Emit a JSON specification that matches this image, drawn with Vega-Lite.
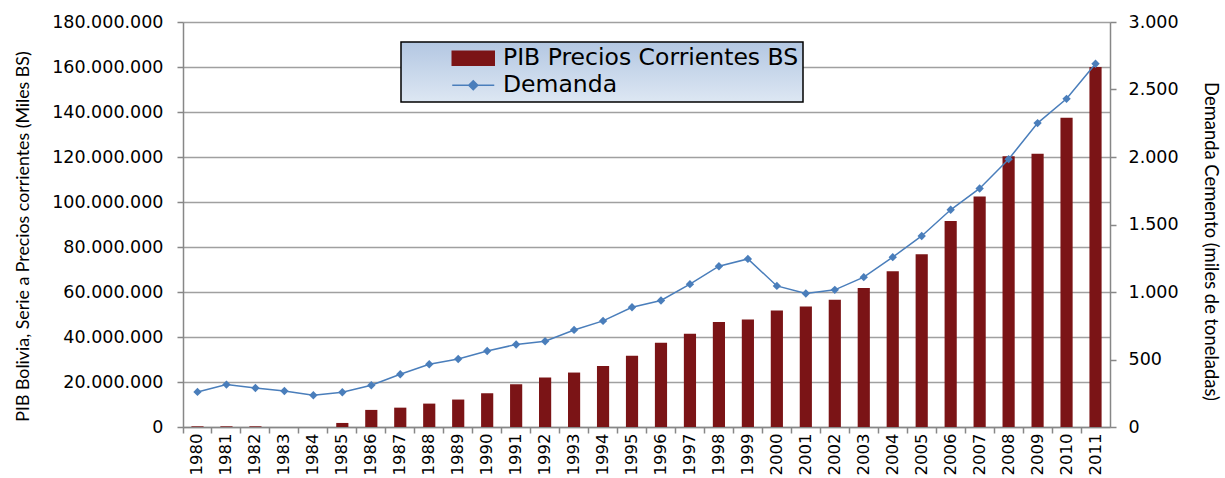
{
  "$schema": "https://vega.github.io/schema/vega-lite/v6.json",
  "width": 927,
  "height": 405,
  "autosize": {"type": "none"},
  "padding": {"left": 183, "top": 22, "right": 115, "bottom": 51},
  "background": "white",
  "config": {
    "locale": {"number": {"decimal": ",", "thousands": ".", "grouping": [3], "currency": ["", ""]}},
    "view": {"stroke": null},
    "axis": {
      "labelFont": "DejaVu Sans",
      "labelColor": "#000000",
      "titleColor": "#000000",
      "domainColor": "#878787",
      "tickColor": "#878787",
      "domainWidth": 1.5,
      "tickWidth": 1.5,
      "titleFontWeight": "normal"
    }
  },
  "data": {
    "values": [
      {"year": "1980", "pib": 300000, "dem": 260},
      {"year": "1981", "pib": 300000, "dem": 314},
      {"year": "1982", "pib": 300000, "dem": 289},
      {"year": "1983", "pib": 0, "dem": 267},
      {"year": "1984", "pib": 0, "dem": 235},
      {"year": "1985", "pib": 1800000, "dem": 257},
      {"year": "1986", "pib": 7600000, "dem": 309},
      {"year": "1987", "pib": 8600000, "dem": 391},
      {"year": "1988", "pib": 10400000, "dem": 465},
      {"year": "1989", "pib": 12200000, "dem": 504},
      {"year": "1990", "pib": 15000000, "dem": 563},
      {"year": "1991", "pib": 19000000, "dem": 611},
      {"year": "1992", "pib": 22000000, "dem": 635},
      {"year": "1993", "pib": 24200000, "dem": 719},
      {"year": "1994", "pib": 27100000, "dem": 786},
      {"year": "1995", "pib": 31700000, "dem": 887},
      {"year": "1996", "pib": 37500000, "dem": 937},
      {"year": "1997", "pib": 41400000, "dem": 1058},
      {"year": "1998", "pib": 46700000, "dem": 1191},
      {"year": "1999", "pib": 47800000, "dem": 1245},
      {"year": "2000", "pib": 51800000, "dem": 1045},
      {"year": "2001", "pib": 53600000, "dem": 989},
      {"year": "2002", "pib": 56600000, "dem": 1016},
      {"year": "2003", "pib": 61800000, "dem": 1110},
      {"year": "2004", "pib": 69200000, "dem": 1258},
      {"year": "2005", "pib": 76800000, "dem": 1415},
      {"year": "2006", "pib": 91600000, "dem": 1609},
      {"year": "2007", "pib": 102400000, "dem": 1767},
      {"year": "2008", "pib": 120300000, "dem": 1984},
      {"year": "2009", "pib": 121500000, "dem": 2251},
      {"year": "2010", "pib": 137500000, "dem": 2431},
      {"year": "2011", "pib": 160000000, "dem": 2691}
    ]
  },
  "layer": [
    {
      "mark": {"type": "bar", "width": {"band": 0.42}},
      "encoding": {
        "x": {
          "field": "year",
          "type": "ordinal",
          "scale": {"paddingInner": 0, "paddingOuter": 0},
          "axis": {
            "orient": "bottom",
            "title": null,
            "labelAngle": 270,
            "ticks": false,
            "labelPadding": 6,
            "labelFontSize": 16.5,
            "domain": true
          }
        },
        "y": {
          "field": "pib",
          "type": "quantitative",
          "scale": {"domain": [0, 180000000], "nice": false},
          "axis": {
            "orient": "left",
            "values": [0, 20000000, 40000000, 60000000, 80000000, 100000000, 120000000, 140000000, 160000000, 180000000],
            "format": ",d",
            "grid": true,
            "gridColor": "#a0a0a0",
            "gridWidth": 1.5,
            "tickSize": 6,
            "labelPadding": 14,
            "labelFontSize": 17.5,
            "title": "PIB Bolivia, Serie a Precios corrientes (Miles BS)",
            "titleFont": "Lato",
            "titleFontSize": 17.8,
            "titleAngle": 270,
            "titleX": -160,
            "titleY": 214,
            "titleAlign": "center",
            "titleBaseline": "middle"
          }
        },
        "color": {
          "datum": "PIB Precios Corrientes BS",
          "type": "nominal",
          "scale": {"domain": ["PIB Precios Corrientes BS", "Demanda"], "range": ["#7b1416", "#4a7ebb"]},
          "legend": {
            "orient": "none",
            "legendX": 218,
            "legendY": 20,
            "title": null,
            "labelFont": "DejaVu Sans",
            "labelFontSize": 23.5,
            "labelColor": "#000000",
            "labelLimit": 0,
            "padding": 4.5,
            "rowPadding": 2,
            "symbolSize": 100,
            "labelOffset": 74,
            "encode": {
              "legend": {
                "update": {
                  "fill": {"value": {"gradient": "linear", "x1": 0, "y1": 0, "x2": 0, "y2": 1, "stops": [{"offset": 0, "color": "#b3c7e2"}, {"offset": 1, "color": "#dde7f3"}]}},
                  "stroke": {"value": "#000000"},
                  "strokeWidth": {"value": 1.5}
                }
              },
              "symbols": {
                "update": {
                  "shape": {"signal": "datum.value === 'Demanda' ? 'M7,0H15.4M11.2,-0.9L12.1,0L11.2,0.9L10.3,0Z' : 'M7,-1.4H15.4V1.4H7Z'"},
                  "fill": {"signal": "datum.value === 'Demanda' ? '#4a7ebb' : '#7b1416'"},
                  "stroke": {"signal": "datum.value === 'Demanda' ? '#4a7ebb' : '#7b1416'"},
                  "strokeWidth": {"value": 1.5},
                  "opacity": {"value": 1}
                }
              }
            }
          }
        }
      }
    },
    {
      "mark": {"type": "line", "strokeWidth": 1.5, "point": {"shape": "diamond", "filled": true, "size": 70}},
      "encoding": {
        "x": {
          "field": "year",
          "type": "ordinal",
          "axis": {
            "orient": "bottom",
            "title": null,
            "labels": false,
            "ticks": true,
            "tickSize": 6,
            "bandPosition": 0,
            "domain": false,
            "grid": false
          }
        },
        "y": {
          "field": "dem",
          "type": "quantitative",
          "scale": {"domain": [0, 3000], "nice": false},
          "axis": {
            "orient": "right",
            "values": [0, 500, 1000, 1500, 2000, 2500, 3000],
            "format": ",d",
            "grid": false,
            "tickSize": 6,
            "labelPadding": 12,
            "labelFontSize": 17.5,
            "title": "Demanda Cemento (miles de toneladas)",
            "titleFont": "Lato",
            "titleFontSize": 18.4,
            "titleAngle": 90,
            "titleX": 100,
            "titleY": 219,
            "titleAlign": "center",
            "titleBaseline": "middle"
          }
        },
        "color": {"datum": "Demanda", "type": "nominal"}
      }
    }
  ],
  "resolve": {
    "scale": {"y": "independent"},
    "axis": {"x": "independent", "y": "independent"}
  }
}
